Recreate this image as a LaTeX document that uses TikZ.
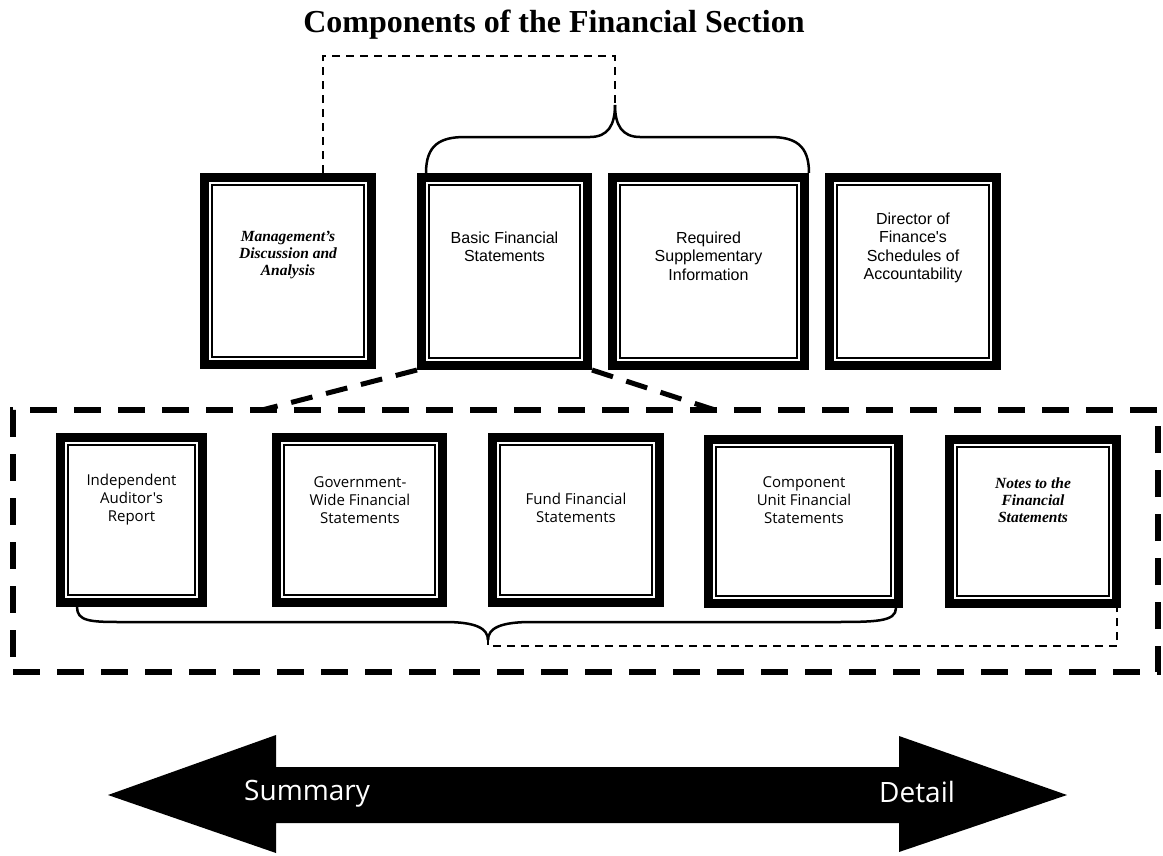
\documentclass[tikz,border=0pt]{standalone}
\usepackage{fontspec}
\setmainfont{Liberation Serif}
\newfontfamily\arialfont{Liberation Sans}
\newfontfamily\opensans{Open Sans}

\begin{document}
\begin{tikzpicture}[x=1pt,y=-1pt,frame/.style={shape=rectangle,draw=black,line width=9pt,inner sep=0pt,path picture={\draw[line width=1.3pt] ([shift={(7.5pt,-7.5pt)}]path picture bounding box.north west) rectangle ([shift={(-7.5pt,7.5pt)}]path picture bounding box.south east);}},toptext/.style={align=center,inner sep=0pt,font=\arialfont\fontsize{16}{18.5}\selectfont},lowtext/.style={align=center,inner sep=0pt,font=\opensans\fontsize{15}{18}\selectfont},fancytext/.style={align=center,inner sep=0pt,font=\bfseries\itshape\fontsize{15.5}{17}\selectfont},arrowtext/.style={text=white,inner sep=0pt,font=\opensans\fontsize{28}{32}\selectfont},zoombox/.style={shape=rectangle,draw=black,line width=6pt,dash pattern=on 27pt off 17pt,inner sep=0pt},zoomline/.style={line width=5pt,dash pattern=on 22pt off 14pt},brace/.style={line width=2.5pt},hint/.style={line width=2.5pt,dash pattern=on 8pt off 6pt}]
\useasboundingbox (0,0) rectangle (1163,855);
\node[anchor=base,font=\bfseries\fontsize{32}{36}\selectfont] (title) at (554,32) {Components of the Financial Section};
% top row
\node[frame,minimum width=167pt,minimum height=187pt] (MDA) at (288,271) {};
\node[frame,minimum width=166pt,minimum height=188pt] (BFS) at (504.5,271.5) {};
\node[frame,minimum width=192pt,minimum height=188pt] (RSI) at (708.5,271.5) {};
\node[frame,minimum width=167pt,minimum height=188pt] (DFS) at (913,271.5) {};
\node[fancytext] (tMDA) at (288,255) {Management's\\Discussion and\\Analysis};
\node[toptext] (tBFS) at (504.5,247) {Basic Financial\\Statements};
\node[toptext] (tRSI) at (708.5,256) {Required\\Supplementary\\Information};
\node[toptext] (tDFS) at (913,248) {Director of\\Finance's\\Schedules of\\Accountability};
% parts of the basic statements
\node[zoombox,minimum width=1145pt,minimum height=262pt] (BFSparts) at (585.5,541) {};
\node[frame,minimum width=142pt,minimum height=165pt] (IAR) at (131.5,520) {};
\node[frame,minimum width=166pt,minimum height=165pt] (GWF) at (359.5,520) {};
\node[frame,minimum width=167pt,minimum height=165pt] (FFS) at (576,520) {};
\node[frame,minimum width=190pt,minimum height=164pt] (CUF) at (803.5,521.5) {};
\node[frame,minimum width=167pt,minimum height=164pt] (NFS) at (1033,521.5) {};
\node[lowtext] (tIAR) at (131.5,500) {Independent\\Auditor's\\Report};
\node[lowtext] (tGWF) at (360,500) {Government-\\Wide Financial\\Statements};
\node[lowtext] (tFFS) at (576,508) {Fund Financial\\Statements};
\node[lowtext] (tCUF) at (804,500) {Component\\Unit Financial\\Statements};
\node[fancytext] (tNFS) at (1033,500) {Notes to the\\Financial\\Statements};
% braces and links
\coordinate (toptip) at (615,105);
\coordinate (lowtip) at (488,640);
\coordinate (zl) at (262,410);
\coordinate (zr) at (715,410);
\draw[brace] ([xshift=9pt]BFS.north west) .. controls +(0,-28) and +(-25,0) .. (465,137) -- (590,137) .. controls +(18,0) and +(0,20) .. (toptip);
\draw[brace] (toptip) .. controls +(0,20) and +(-18,0) .. (640,137) -- (770,137) .. controls +(25,0) and +(0,-28) .. (RSI.north east);
\draw[hint] ([xshift=35pt]MDA.north) -- ++(0,-117) -| ([yshift=-3pt]toptip);
\draw[zoomline] (BFS.south west) -- (zl);
\draw[zoomline] (BFS.south east) -- (zr);
\draw[brace] ([xshift=21pt]IAR.south west) .. controls +(0,14) and +(-30,0) .. (120,622) -- (445,622) .. controls +(30,0) and +(0,-12) .. (lowtip);
\draw[brace] (lowtip) .. controls +(0,-12) and +(-30,0) .. (531,622) -- (830,622) .. controls +(45,0) and +(0,14) .. ([xshift=-7pt]CUF.south east);
\draw[hint] ([yshift=3pt]lowtip) -- ++(0,9) -| ([xshift=84pt]NFS.south);
% summary / detail arrow
\fill[black] (108,795) -- (276,735) -- (276,767) -- (899,767) -- (899,736) -- (1067,795) -- (899,852) -- (899,823) -- (276,823) -- (276,853) -- cycle;
\node[arrowtext,anchor=base west] (sum) at (244,800) {Summary};
\node[arrowtext,anchor=base west] (det) at (879,802) {Detail};
\end{tikzpicture}
\end{document}
